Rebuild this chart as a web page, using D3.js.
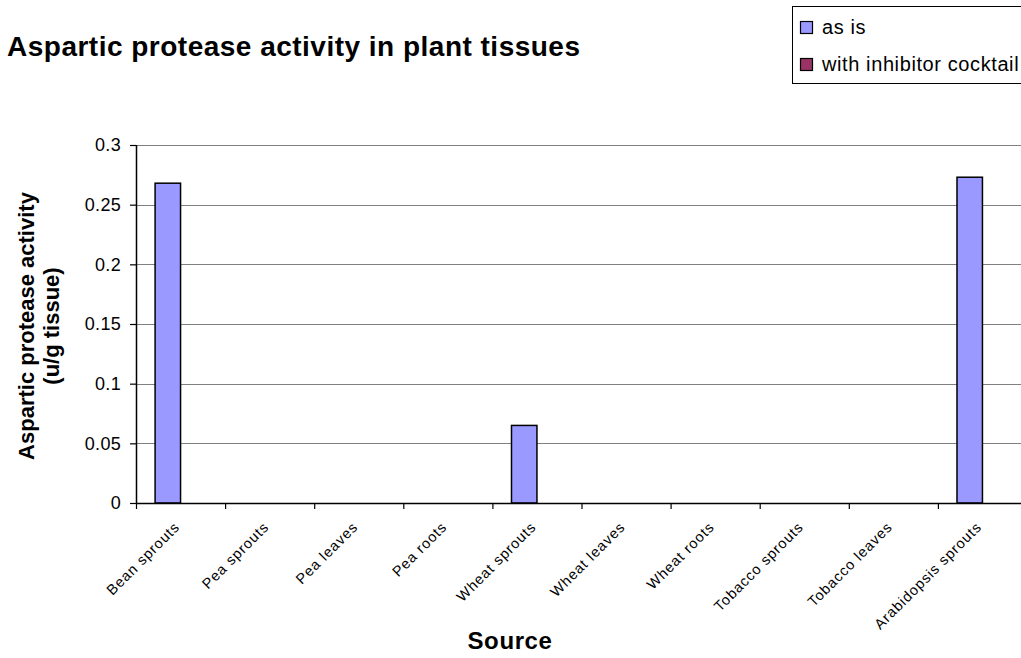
<!DOCTYPE html>
<html>
<head>
<meta charset="utf-8">
<script src="https://cdn.jsdelivr.net/npm/d3@7/dist/d3.min.js"></script>
<style>
  html, body { margin: 0; padding: 0; background: #fff; }
  svg { display: block; font-family: "Liberation Sans", Arial, sans-serif; }
</style>
</head>
<body>
<svg id="chart" width="1021" height="658"></svg>
<script>
// Source tissues on the x axis
const categories = [
  "Bean sprouts", "Pea sprouts", "Pea leaves", "Pea roots", "Wheat sprouts",
  "Wheat leaves", "Wheat roots", "Tobacco sprouts", "Tobacco leaves", "Arabidopsis sprouts"
];
// Activity (u/g tissue) per tissue
const asIs = [0.268, 0, 0, 0, 0.065, 0, 0, 0, 0, 0.273];
const withInhibitor = [0, 0, 0, 0, 0, 0, 0, 0, 0, 0];
const seriesNames = ["as is", "with inhibitor cocktail"];
const seriesColors = ["#9999FF", "#993366"];
const yTicks = [0, 0.05, 0.1, 0.15, 0.2, 0.25, 0.3];

const svg = d3.select("#chart");

const plot = { left: 136, right: 1027, top: 145, bottom: 503 };

const x = d3.scaleBand().domain(categories).range([plot.left, plot.right]).padding(0);
const xs = d3.scaleBand().domain(seriesNames).range([0, x.bandwidth()])
  .paddingInner(0).paddingOuter(0.75);
const y = d3.scaleLinear().domain([0, 0.3]).range([plot.bottom, plot.top]);

// Horizontal gridlines
svg.append("g")
  .selectAll("line")
  .data(yTicks.filter(d => d > 0))
  .join("line")
  .attr("x1", plot.left).attr("x2", plot.right)
  .attr("y1", d => Math.round(y(d)) + 0.5).attr("y2", d => Math.round(y(d)) + 0.5)
  .attr("stroke", "#808080").attr("stroke-width", 1.2);

// Bars
const rows = categories.map((c, i) => ({ cat: c, values: [asIs[i], withInhibitor[i]] }));
const groups = svg.append("g").selectAll("g")
  .data(rows).join("g")
  .attr("transform", d => `translate(${x(d.cat)},0)`);
groups.selectAll("rect")
  .data(d => d.values.map((v, k) => ({ v, k })))
  .join("rect")
  .attr("x", d => xs(seriesNames[d.k]))
  .attr("width", xs.bandwidth())
  .attr("y", d => y(d.v))
  .attr("height", d => y(0) - y(d.v))
  .attr("fill", d => seriesColors[d.k])
  .attr("stroke", "#000").attr("stroke-width", 1.5);

// Y axis
const yAxis = d3.axisLeft(y).tickValues(yTicks).tickSize(6).tickPadding(9)
  .tickFormat(d => d === 0 ? "0" : String(+d.toFixed(2)));
const gy = svg.append("g").attr("transform", `translate(${plot.left},0)`).call(yAxis);
gy.select(".domain").attr("stroke", "#000").attr("stroke-width", 1.5)
  .attr("d", `M0.5,${plot.top}V${plot.bottom}`);
gy.selectAll(".tick line").attr("stroke", "#000").attr("stroke-width", 1.2);
gy.selectAll(".tick text").attr("font-size", 18).attr("fill", "#000")
  .attr("letter-spacing", 0.3)
  .attr("font-family", "'Liberation Sans', Arial, sans-serif");

// X axis
const xAxis = d3.axisBottom(x).tickSize(0).tickFormat("");
const gx = svg.append("g").attr("transform", `translate(0,${plot.bottom})`).call(xAxis);
gx.select(".domain").attr("stroke", "#000").attr("stroke-width", 1.5)
  .attr("d", `M${plot.left},0.5H${plot.right}`);
gx.selectAll(".tick").remove();
// Boundary ticks between categories
gx.selectAll("line.bound")
  .data(d3.range(categories.length + 1))
  .join("line").attr("class", "bound")
  .attr("x1", i => plot.left + i * x.step() + 0.5)
  .attr("x2", i => plot.left + i * x.step() + 0.5)
  .attr("y1", 0).attr("y2", 6)
  .attr("stroke", "#000").attr("stroke-width", 1.2);
// Rotated category labels
gx.selectAll("text.cat")
  .data(categories)
  .join("text").attr("class", "cat")
  .attr("transform", d => `translate(${x(d) + x.bandwidth() / 2 + 0},${25}) rotate(-45)`)
  .attr("text-anchor", "end")
  .attr("font-size", 14.5)
  .attr("letter-spacing", 0.9)
  .attr("fill", "#000")
  .text(d => d);

// Titles
svg.append("text")
  .attr("x", 7).attr("y", 56)
  .attr("font-size", 28).attr("font-weight", "bold")
  .attr("textLength", 573).attr("lengthAdjust", "spacing")
  .text("Aspartic protease activity in plant tissues");

svg.append("text")
  .attr("x", 510).attr("y", 649)
  .attr("text-anchor", "middle")
  .attr("font-size", 24).attr("font-weight", "bold")
  .attr("letter-spacing", 0.6)
  .text("Source");

const yTitle = svg.append("text")
  .attr("transform", "translate(34,326) rotate(-90)")
  .attr("text-anchor", "middle")
  .attr("font-size", 22).attr("font-weight", "bold");
yTitle.append("tspan").attr("x", 0).attr("dy", 0).text("Aspartic protease activity");
yTitle.append("tspan").attr("x", 0).attr("dy", 25).text("(u/g tissue)");

// Legend
const legend = svg.append("g");
legend.append("rect")
  .attr("x", 792.5).attr("y", 6.5).attr("width", 240).attr("height", 77)
  .attr("fill", "#fff").attr("stroke", "#000").attr("stroke-width", 1);
const items = legend.selectAll("g.item")
  .data(seriesNames)
  .join("g").attr("class", "item")
  .attr("transform", (d, i) => `translate(800,${21 + i * 37})`);
items.append("rect")
  .attr("x", 0.5).attr("y", 0.5).attr("width", 12).attr("height", 12)
  .attr("fill", (d, i) => seriesColors[i])
  .attr("stroke", "#000").attr("stroke-width", 1.2);
items.append("text")
  .attr("x", 22).attr("y", 13)
  .attr("font-size", 20).attr("fill", "#000")
  .attr("letter-spacing", 0.6)
  .text(d => d);
</script>
</body>
</html>
